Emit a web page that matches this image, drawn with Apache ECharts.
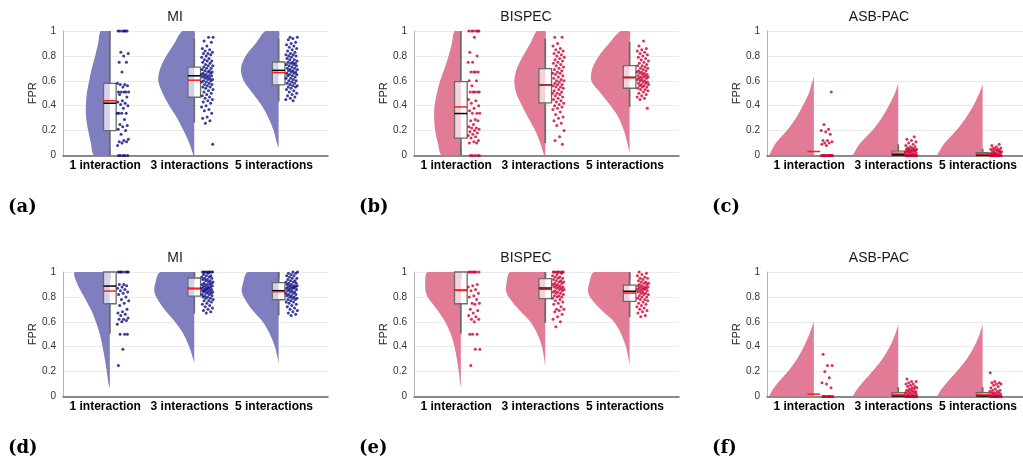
<!DOCTYPE html>
<html>
<head>
<meta charset="utf-8">
<script src="https://cdn.jsdelivr.net/npm/echarts@6.0.0/dist/echarts.min.js"></script>
<style>
  html, body { margin: 0; padding: 0; background: #fff; }
  #chart { width: 1023px; height: 463px; }
</style>
</head>
<body>
<div id="chart"></div>
<script>
// categories / titles
var categories = ['1 interaction', '3 interactions', '5 interactions'];
var panelTitles = ['MI', 'BISPEC', 'ASB-PAC', 'MI', 'BISPEC', 'ASB-PAC'];
var panelTags = ['(a)', '(b)', '(c)', '(d)', '(e)', '(f)'];
var yTicks = [0, 0.2, 0.4, 0.6, 0.8, 1];

// violin half-profiles: [FPR, density width]
var violinA = [
  [[0,15.7],[0.1,19],[0.2,21.7],[0.3,23.7],[0.4,24],[0.5,23],[0.6,20.7],[0.7,18],[0.8,14.7],[0.9,11.7],[1,9]],
  [[0,0.7],[0.1,5],[0.2,10.7],[0.3,17],[0.4,25],[0.5,31.7],[0.6,36],[0.7,34],[0.8,28],[0.9,20],[1,11.7]],
  [[0.06,0],[0.1,1.7],[0.2,5],[0.3,10],[0.4,16.7],[0.5,26],[0.6,35],[0.7,37.7],[0.8,33],[0.9,23],[1,13]]
];
var violinB = [
  [[0,19],[0.1,23],[0.2,25.7],[0.3,26.7],[0.4,26.3],[0.5,24],[0.6,20.7],[0.7,16.3],[0.8,12.3],[0.9,9],[1,6.3]],
  [[0,1],[0.1,5],[0.2,10],[0.3,16.7],[0.4,23.3],[0.5,29],[0.6,31],[0.7,28.3],[0.8,22.3],[0.9,15],[1,8.3]],
  [[0.02,0],[0.1,2.3],[0.2,5.7],[0.3,10.7],[0.4,19],[0.5,29],[0.6,38.3],[0.7,37.3],[0.8,30.7],[0.9,20.7],[1,9]]
];
var violinC = [
  [[0,44],[0.03,43],[0.1,38],[0.2,27],[0.3,18],[0.4,11],[0.5,5],[0.6,1.3],[0.63,0]],
  [[0,45],[0.03,43.5],[0.1,38],[0.2,26],[0.3,16.7],[0.4,9.5],[0.5,3.3],[0.58,0]],
  [[0,45],[0.03,43.5],[0.1,38],[0.2,26.5],[0.3,17],[0.4,9.3],[0.5,3.3],[0.57,0]]
];
var violinD = [
  [[0.07,0],[0.1,1.3],[0.2,3],[0.3,5],[0.4,7.3],[0.5,10],[0.6,14],[0.7,19],[0.8,25.7],[0.9,32.3],[1,35]],
  [[0.27,0],[0.3,1],[0.4,5],[0.5,10.7],[0.6,19.3],[0.7,30],[0.8,38],[0.85,40],[0.9,39.3],[1,34]],
  [[0.26,0],[0.3,0.7],[0.4,3.7],[0.5,8.7],[0.6,16],[0.7,27],[0.8,35],[0.85,37],[0.9,36],[1,31]]
];
var violinE = [
  [[0.07,0],[0.1,0.7],[0.2,2],[0.3,4],[0.4,6.3],[0.5,10],[0.6,15.7],[0.7,24],[0.8,33.3],[0.85,35.3],[0.9,35.7],[1,33.3]],
  [[0.24,0],[0.3,1],[0.4,3.3],[0.5,7.7],[0.6,15],[0.7,26.7],[0.8,36.7],[0.85,39.3],[0.9,39],[1,35]],
  [[0.25,0],[0.3,1],[0.4,3.7],[0.5,8.3],[0.6,15.7],[0.7,29],[0.8,39.7],[0.85,41.7],[0.9,40.7],[1,35.7]]
];
var violinF = [
  [[0,44],[0.03,43],[0.1,37],[0.2,26],[0.3,17],[0.4,10],[0.5,4.5],[0.6,0]],
  [[0,45],[0.03,43.5],[0.1,37],[0.2,26],[0.3,16],[0.4,8.5],[0.5,3],[0.58,0]],
  [[0,45],[0.03,43.5],[0.1,37],[0.2,26],[0.3,16],[0.4,8.5],[0.5,3],[0.58,0]]
];

// boxes: [whisker low, q1, median, q3, whisker high, mean]
var boxA = [[0,0.20,0.42,0.58,1,0.44],[0.265,0.468,0.64,0.71,0.94,0.605],[0.433,0.567,0.684,0.751,0.94,0.666]];
var boxB = [[0,0.139,0.337,0.594,1,0.39],[0.099,0.422,0.566,0.698,0.94,0.564],[0.39,0.54,0.628,0.722,0.914,0.624]];
var boxC = [[0,0,0,0,0,0.032],[0,0,0.005,0.035,0.09,0.018],[0,0,0.003,0.022,0.054,0.012]];
var boxD = [[0.504,0.745,0.887,1,1,0.847],[0.665,0.807,0.868,0.952,1,0.866],[0.651,0.777,0.85,0.914,1,0.842]];
var boxE = [[0.504,0.745,0.853,1,1,0.853],[0.592,0.786,0.871,0.946,1,0.861],[0.638,0.764,0.845,0.895,1,0.831]];
var boxF = [[0,0,0,0,0,0.019],[0,0,0.005,0.03,0.075,0.013],[0,0,0.005,0.03,0.075,0.013]];

// raw FPR points
var pointsA = [
  [1,1,1,1,1,1,0.83,0.82,0.80,0.75,0.75,0.67,0.58,0.57,0.57,0.56,0.55,0.51,0.51,0.51,0.51,0.51,0.49,0.47,0.44,0.43,0.42,0.41,0.40,0.38,0.34,0.34,0.34,0.34,0.29,0.25,0.24,0.23,0.21,0.20,0.17,0.13,0.12,0.11,0.11,0.10,0.08,0,0,0,0,0],
  [0.95,0.95,0.92,0.91,0.88,0.86,0.85,0.84,0.83,0.82,0.82,0.81,0.80,0.79,0.78,0.77,0.76,0.76,0.75,0.74,0.73,0.72,0.72,0.71,0.70,0.70,0.69,0.68,0.68,0.67,0.67,0.66,0.66,0.65,0.65,0.64,0.64,0.64,0.63,0.63,0.62,0.62,0.61,0.61,0.60,0.60,0.59,0.59,0.58,0.57,0.57,0.56,0.55,0.55,0.54,0.53,0.52,0.51,0.50,0.49,0.48,0.47,0.46,0.45,0.44,0.43,0.42,0.40,0.39,0.37,0.36,0.34,0.31,0.30,0.28,0.26,0.09],
  [0.95,0.95,0.94,0.93,0.91,0.90,0.89,0.88,0.87,0.86,0.85,0.84,0.83,0.82,0.81,0.81,0.80,0.80,0.79,0.78,0.77,0.77,0.76,0.75,0.75,0.74,0.74,0.73,0.73,0.72,0.72,0.71,0.70,0.70,0.69,0.69,0.68,0.68,0.67,0.67,0.66,0.66,0.65,0.65,0.64,0.64,0.63,0.62,0.62,0.61,0.60,0.60,0.59,0.58,0.58,0.57,0.56,0.56,0.55,0.55,0.54,0.53,0.52,0.51,0.50,0.49,0.48,0.47,0.46,0.45,0.44]
];
var pointsB = [
  [1,1,1,1,1,1,0.95,0.83,0.80,0.75,0.75,0.67,0.67,0.67,0.67,0.60,0.60,0.56,0.51,0.51,0.51,0.51,0.51,0.45,0.44,0.42,0.40,0.38,0.36,0.34,0.34,0.34,0.29,0.28,0.28,0.25,0.23,0.22,0.22,0.21,0.20,0.19,0.18,0.17,0.16,0.15,0.14,0.12,0.11,0.10,0.10,0,0,0,0,0],
  [0.95,0.95,0.90,0.88,0.86,0.85,0.84,0.83,0.82,0.81,0.80,0.79,0.78,0.77,0.76,0.75,0.74,0.73,0.72,0.71,0.70,0.69,0.68,0.67,0.66,0.66,0.65,0.64,0.63,0.62,0.61,0.60,0.60,0.59,0.58,0.57,0.57,0.56,0.55,0.55,0.54,0.53,0.52,0.51,0.50,0.50,0.49,0.48,0.47,0.46,0.45,0.44,0.43,0.42,0.41,0.40,0.39,0.38,0.37,0.35,0.33,0.31,0.30,0.28,0.26,0.24,0.20,0.15,0.12,0.09],
  [0.92,0.88,0.86,0.85,0.84,0.83,0.82,0.81,0.80,0.79,0.78,0.77,0.76,0.75,0.74,0.73,0.72,0.72,0.71,0.70,0.70,0.69,0.68,0.68,0.67,0.67,0.66,0.66,0.65,0.65,0.64,0.64,0.63,0.63,0.63,0.62,0.62,0.61,0.61,0.60,0.60,0.59,0.59,0.58,0.58,0.57,0.57,0.56,0.56,0.55,0.55,0.54,0.53,0.53,0.52,0.51,0.50,0.49,0.48,0.47,0.46,0.45,0.38]
];
var pointsC = [
  [0,0,0,0,0,0,0,0,0,0,0,0,0.08,0.09,0.10,0.10,0.11,0.12,0.12,0.17,0.19,0.20,0.21,0.25,0.51],
  [0,0,0,0,0,0,0,0,0,0,0,0,0,0,0.01,0.01,0.02,0.02,0.02,0.03,0.03,0.03,0.03,0.04,0.04,0.04,0.04,0.05,0.05,0.05,0.05,0.06,0.06,0.07,0.07,0.08,0.09,0.10,0.11,0.12,0.13,0.15],
  [0,0,0,0,0,0,0,0,0,0,0,0,0,0,0.01,0.01,0.01,0.02,0.02,0.02,0.02,0.03,0.03,0.03,0.04,0.04,0.04,0.05,0.05,0.05,0.06,0.06,0.07,0.08,0.09]
];
var pointsD = [
  [1,1,1,1,1,1,1,0.90,0.90,0.89,0.88,0.87,0.86,0.85,0.84,0.83,0.82,0.80,0.78,0.77,0.75,0.73,0.70,0.68,0.67,0.66,0.65,0.63,0.62,0.62,0.61,0.60,0.58,0.50,0.50,0.50,0.38,0.25],
  [1,1,1,1,1,1,1,1,0.99,0.98,0.97,0.97,0.96,0.96,0.95,0.95,0.94,0.94,0.93,0.93,0.92,0.92,0.91,0.91,0.90,0.90,0.90,0.89,0.89,0.88,0.88,0.88,0.87,0.87,0.87,0.86,0.86,0.86,0.85,0.85,0.85,0.84,0.84,0.84,0.83,0.83,0.82,0.82,0.81,0.81,0.80,0.80,0.79,0.79,0.78,0.77,0.77,0.76,0.75,0.74,0.73,0.72,0.71,0.70,0.69,0.68,0.67],
  [1,1,0.99,0.99,0.98,0.97,0.97,0.96,0.95,0.95,0.94,0.93,0.93,0.92,0.92,0.91,0.91,0.90,0.90,0.89,0.89,0.89,0.88,0.88,0.88,0.87,0.87,0.87,0.86,0.86,0.85,0.85,0.84,0.84,0.83,0.83,0.82,0.82,0.81,0.81,0.80,0.80,0.79,0.79,0.78,0.78,0.77,0.76,0.76,0.75,0.74,0.73,0.72,0.71,0.70,0.69,0.68,0.67,0.66,0.65]
];
var pointsE = [
  [1,1,1,1,1,1,1,0.90,0.89,0.88,0.86,0.85,0.83,0.81,0.80,0.78,0.75,0.75,0.74,0.70,0.69,0.67,0.65,0.64,0.62,0.62,0.60,0.50,0.50,0.50,0.38,0.38,0.25],
  [1,1,1,1,1,1,1,1,0.99,0.98,0.97,0.96,0.96,0.95,0.95,0.94,0.93,0.93,0.92,0.92,0.91,0.91,0.90,0.90,0.89,0.89,0.88,0.88,0.88,0.87,0.87,0.86,0.86,0.85,0.85,0.84,0.84,0.83,0.83,0.82,0.81,0.81,0.80,0.80,0.79,0.78,0.77,0.76,0.75,0.74,0.72,0.70,0.70,0.69,0.68,0.66,0.64,0.62,0.60,0.56],
  [1,0.99,0.98,0.97,0.96,0.95,0.95,0.94,0.93,0.92,0.92,0.91,0.91,0.90,0.90,0.89,0.89,0.88,0.88,0.88,0.87,0.87,0.87,0.86,0.86,0.86,0.85,0.85,0.84,0.84,0.83,0.83,0.82,0.82,0.81,0.80,0.80,0.79,0.78,0.78,0.77,0.76,0.75,0.74,0.73,0.72,0.71,0.70,0.69,0.68,0.67,0.65,0.64]
];
var pointsF = [
  [0,0,0,0,0,0,0,0,0,0,0.07,0.10,0.11,0.15,0.20,0.25,0.25,0.34],
  [0,0,0,0,0,0,0,0,0,0,0,0,0,0,0.01,0.01,0.02,0.02,0.02,0.03,0.03,0.03,0.04,0.04,0.04,0.05,0.05,0.06,0.06,0.07,0.07,0.08,0.08,0.09,0.10,0.10,0.11,0.12,0.12,0.14],
  [0,0,0,0,0,0,0,0,0,0,0,0,0,0,0.01,0.01,0.02,0.02,0.02,0.03,0.03,0.03,0.04,0.04,0.05,0.05,0.06,0.07,0.08,0.09,0.10,0.10,0.11,0.11,0.12,0.19]
];

var violins = [violinA, violinB, violinC, violinD, violinE, violinF];
var boxes = [boxA, boxB, boxC, boxD, boxE, boxF];
var points = [pointsA, pointsB, pointsC, pointsD, pointsE, pointsF];

// colours
var blueFill = '#7f7fbf', blueDot = '#0b0b80';
var pinkFill = '#e27b96', pinkDot = '#cc0033';

// layout
var rowTop = [31, 272];
var colLeft = [63, 414, 767];
var plotW = 265, plotH = 124.5;
var PX_PER_UNIT = 84.5;   // px per x unit
var BOX_SHIFT = 0.055;
var BOX_HALF = 0.075;
var FONT = 'Liberation Sans, Arial, sans-serif';

var chart = echarts.init(document.getElementById('chart'));

var option = {
  animation: false,
  backgroundColor: '#fff',
  title: [],
  grid: [],
  xAxis: [],
  yAxis: [],
  series: []
};

for (var p = 0; p < 6; p++) {
  var row = p < 3 ? 0 : 1;
  var col = p % 3;
  var fill = col === 0 ? blueFill : pinkFill;
  var dot = col === 0 ? blueDot : pinkDot;

  option.title.push({
    text: panelTitles[p],
    left: colLeft[col] + 112,
    top: rowTop[row] - 21,
    textAlign: 'center',
    padding: 0,
    textStyle: { fontSize: 14, fontWeight: 'normal', color: '#1a1a1a', fontFamily: FONT }
  });
  option.title.push({
    text: panelTags[p],
    left: colLeft[col] - 55,
    top: rowTop[row] + 167,
    padding: 0,
    textStyle: { fontSize: 18, fontWeight: 'bold', color: '#000', fontFamily: 'DejaVu Serif, serif' }
  });

  option.grid.push({
    left: colLeft[col], top: rowTop[row], width: plotW, height: plotH,
    outerBoundsMode: 'none'
  });

  option.xAxis.push({
    gridIndex: p,
    type: 'value',
    min: 0.5,
    max: 3.64,
    axisLine: { show: true, onZero: false, lineStyle: { color: '#666', width: 1.5 } },
    axisTick: { show: false },
    splitLine: { show: false },
    axisLabel: {
      customValues: [1, 2, 3],
      formatter: function (v) { return categories[Math.round(v) - 1]; },
      fontWeight: 'bold',
      fontSize: 12,
      color: '#000',
      fontFamily: FONT,
      margin: 4
    }
  });

  option.yAxis.push({
    gridIndex: p,
    type: 'value',
    min: 0,
    max: 1,
    interval: 0.2,
    name: 'FPR',
    nameLocation: 'middle',
    nameGap: 25,
    nameTextStyle: { fontSize: 11, color: '#262626', fontFamily: FONT },
    axisLine: { show: true, lineStyle: { color: '#b5b5b5', width: 1 } },
    axisTick: { show: false },
    axisLabel: {
      customValues: yTicks,
      fontSize: 10, color: '#333', fontFamily: FONT, margin: 7
    },
    splitLine: { show: true, lineStyle: { color: '#ebebeb', width: 1 } }
  });

  // half violins
  (function (prof, fillColor) {
    option.series.push({
      type: 'custom',
      coordinateSystem: 'cartesian2d',
      xAxisIndex: p, yAxisIndex: p,
      z: 1,
      clip: true,
      silent: true,
      data: prof.map(function (v, i) { return [i + 1, 0.5]; }),
      renderItem: function (params, api) {
        var c = api.value(0) + BOX_SHIFT;
        var pr = prof[params.dataIndex];
        var pts = [];
        for (var i = 0; i < pr.length; i++) {
          pts.push(api.coord([c - pr[i][1] / PX_PER_UNIT, pr[i][0]]));
        }
        for (var j = pr.length - 1; j >= 0; j--) {
          pts.push(api.coord([c, pr[j][0]]));
        }
        return {
          type: 'polygon',
          shape: { points: pts, smooth: 0.3 },
          style: { fill: fillColor, stroke: null }
        };
      }
    });
  })(violins[p], fill);

  // box plots
  (function (bx) {
    option.series.push({
      type: 'custom',
      coordinateSystem: 'cartesian2d',
      xAxisIndex: p, yAxisIndex: p,
      z: 2,
      clip: false,
      silent: true,
      data: bx.map(function (b, i) { return [i + 1].concat(b); }),
      renderItem: function (params, api) {
        var k = api.value(0) + BOX_SHIFT;
        var lo = api.value(1), q1 = api.value(2), md = api.value(3),
            q3 = api.value(4), hi = api.value(5), mn = api.value(6);
        var tl = api.coord([k - BOX_HALF, q3]);
        var br = api.coord([k + BOX_HALF, q1]);
        var cx = api.coord([k, 0])[0];
        var gray = '#6b6b6b';
        var kids = [];
        if (hi > q3) kids.push({ type: 'line', shape: { x1: cx, y1: api.coord([k, hi])[1], x2: cx, y2: tl[1] }, style: { stroke: gray, lineWidth: 1.8 } });
        if (q1 > lo) kids.push({ type: 'line', shape: { x1: cx, y1: br[1], x2: cx, y2: api.coord([k, lo])[1] }, style: { stroke: gray, lineWidth: 1.8 } });
        if (q3 > q1) {
          kids.push({ type: 'rect', shape: { x: tl[0], y: tl[1], width: br[0] - tl[0], height: br[1] - tl[1] }, style: { fill: 'rgba(255,255,255,0.65)', stroke: gray, lineWidth: 1.3 } });
          var ym = api.coord([k, md])[1];
          kids.push({ type: 'line', shape: { x1: tl[0], y1: ym, x2: br[0], y2: ym }, style: { stroke: '#000', lineWidth: 1.5 } });
        }
        var yr = api.coord([k, mn])[1];
        kids.push({ type: 'line', shape: { x1: tl[0], y1: yr, x2: br[0], y2: yr }, style: { stroke: '#ff1a1a', lineWidth: 1.5 } });
        return { type: 'group', children: kids };
      }
    });
  })(boxes[p]);

  // jittered raw points
  var pd = [];
  for (var g = 0; g < 3; g++) {
    var vals = points[p][g];
    for (var i = 0; i < vals.length; i++) {
      var jit = ((i + 1) * 0.6180339 + g * 0.37 + p * 0.21) % 1;
      pd.push([g + 1 + BOX_SHIFT + 0.085 + jit * 0.14, vals[i]]);
    }
  }
  option.series.push({
    type: 'scatter',
    xAxisIndex: p, yAxisIndex: p,
    z: 3,
    clip: false,
    silent: true,
    symbol: 'circle',
    symbolSize: 3,
    itemStyle: { color: dot },
    data: pd
  });
}

chart.setOption(option);
</script>
</body>
</html>
